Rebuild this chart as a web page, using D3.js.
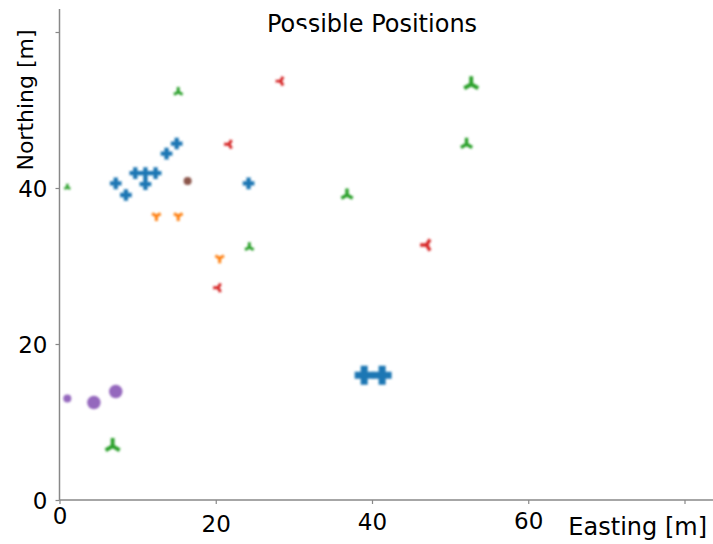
<!DOCTYPE html>
<html>
<head>
<meta charset="utf-8">
<script src="https://cdn.jsdelivr.net/npm/d3@7"></script>
<style>
  body { margin: 0; background: #fff; }
  text { font-family: "DejaVu Sans", sans-serif; fill: #000; }
</style>
</head>
<body>
<svg id="chart" width="713" height="544"></svg>
<script>
// Data: [easting, northing, weight]
const plusPoints = [[7.2, 40.6, 2], [8.5, 39.1, 2], [9.7, 41.9, 2], [11.0, 41.9, 2], [12.3, 41.9, 2],
  [11.0, 40.5, 2], [13.7, 44.4, 2], [15.0, 45.7, 2], [24.2, 40.6, 2], [39.0, 16.0, 4], [41.3, 16.0, 4]];
const triDownPoints = [[12.4, 36.4, 2], [15.2, 36.4, 2], [20.5, 31.0, 2]];
const triUpPoints = [[1.0, 40.1, 1], [15.2, 52.3, 2], [24.3, 32.4, 2], [36.8, 39.1, 3],
  [52.1, 45.6, 3], [52.7, 53.3, 4], [6.8, 6.9, 4]];
const triLeftPoints = [[28.3, 53.7, 2], [21.7, 45.6, 2], [47.0, 32.7, 3], [20.3, 27.2, 2]];
const purplePoints = [[1.0, 13.0, 1], [4.4, 12.5, 3], [7.2, 13.9, 3]];
const brownPoints = [[16.4, 40.9, 1]];

const xTicks = [0, 20, 40, 60, 80];
const yTicks = [0, 20, 40, 60];

const svg = d3.select("#chart");

// Scales
const x = d3.scaleLinear().domain([0, 80]).range([59.5, 684.5]);
const y = d3.scaleLinear().domain([0, 60]).range([500, 32]);
const arm = d3.scaleLinear().domain([1, 4]).range([4, 9.5]);

const spine = "#888";

// Axes
const xAxis = svg.append("g")
  .attr("transform", "translate(0,500)")
  .call(d3.axisBottom(x).tickValues(xTicks).tickSize(4).tickPadding(10));
xAxis.select(".domain").attr("d", "M59.5,0H713");

const yAxis = svg.append("g")
  .attr("transform", "translate(59.5,0)")
  .call(d3.axisLeft(y).tickValues(yTicks).tickSize(4).tickPadding(8));
yAxis.select(".domain").attr("d", "M0,9V500");

svg.selectAll(".domain").attr("stroke", spine).attr("stroke-width", 1.5);
svg.selectAll(".tick line").attr("stroke", spine).attr("stroke-width", 1.2);
svg.selectAll(".tick text").style("font-size", "23px").attr("fill", "#000");

// x tick labels sit at slightly uneven heights in the original
const xDy = [-6, 2, 0, -1, 0];
xAxis.selectAll(".tick text").attr("dy", (d, i) => (xDy[i] + 16) + "px");
xAxis.select(".tick:last-child text").remove();
yAxis.selectAll(".tick text").attr("dy", "0.36em");
yAxis.select(".tick:last-child text").remove();

// Labels
svg.append("text")
  .attr("x", 372).attr("y", 32)
  .attr("text-anchor", "middle")
  .style("font-size", "24px")
  .text("Possible Positions");
// small white patch that clips the title
svg.append("rect").attr("x", 292).attr("y", 29).attr("width", 19).attr("height", 10).attr("fill", "#fff");

svg.append("text")
  .attr("transform", "translate(33,100) rotate(-90)")
  .attr("text-anchor", "middle")
  .style("font-size", "22px")
  .text("Northing [m]");

svg.append("text")
  .attr("x", 707).attr("y", 535)
  .attr("text-anchor", "end")
  .style("font-size", "24px")
  .text("Easting [m]");

// Markers
const defs = svg.append("defs");
defs.append("filter").attr("id", "soft")
  .append("feGaussianBlur").attr("stdDeviation", 0.8);

const marks = svg.append("g").attr("filter", "url(#soft)");

function plusPath(a) {
  const t = a / 2.7;
  return `M${-t},${-a}H${t}V${-t}H${a}V${t}H${t}V${a}H${-t}V${t}H${-a}V${-t}H${-t}Z`;
}

function triPath(a, dirs) {
  return dirs.map(([dx, dy]) => `M0,0L${dx * a},${dy * a}`).join("");
}

const s3 = Math.sqrt(3) / 2;
const triDown = [[0, 1], [-s3, -0.5], [s3, -0.5]];
const triUp = [[0, -1], [-s3, 0.5], [s3, 0.5]];
const triLeft = [[-1, 0], [0.5, -s3], [0.5, s3]];

marks.selectAll(".plus")
  .data(plusPoints)
  .join("path")
  .attr("class", "plus")
  .attr("transform", d => `translate(${x(d[0])},${y(d[1])})`)
  .attr("d", d => plusPath(arm(d[2])))
  .attr("fill", "#1f77b4");

function drawTri(data, dirs, color) {
  marks.append("g").selectAll("path")
    .data(data)
    .join("path")
    .attr("transform", d => `translate(${x(d[0])},${y(d[1])})`)
    .attr("d", d => triPath(arm(d[2]) * 0.85, dirs))
    .attr("fill", "none")
    .attr("stroke", color)
    .attr("stroke-linejoin", "round")
    .attr("stroke-width", d => 1.5 + arm(d[2]) * 0.25);
}

drawTri(triDownPoints, triDown, "#ff7f0e");
drawTri(triUpPoints, triUp, "#2ca02c");
drawTri(triLeftPoints, triLeft, "#d62728");

function drawDots(data, color) {
  marks.append("g").selectAll("circle")
    .data(data)
    .join("circle")
    .attr("cx", d => x(d[0]))
    .attr("cy", d => y(d[1]))
    .attr("r", d => 1 + arm(d[2]) * 0.75)
    .attr("fill", color);
}

drawDots(purplePoints, "#9467bd");
drawDots(brownPoints, "#8c564b");
</script>
</body>
</html>
